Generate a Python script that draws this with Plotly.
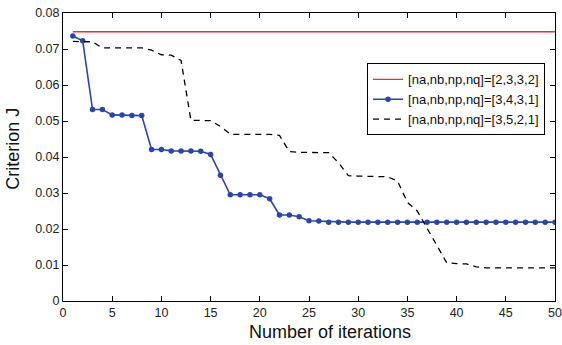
import plotly.graph_objects as go

iterations = list(range(1, 51))

red_J = [0.0748] * 50

blue_J = [0.0736, 0.0723, 0.0532, 0.0532, 0.0517, 0.0517, 0.0515, 0.0515, 0.0421, 0.0421,
          0.0417, 0.0417, 0.0417, 0.0416, 0.0407, 0.0349, 0.0295, 0.0295, 0.0295, 0.0295,
          0.0284, 0.0239, 0.0239, 0.0234, 0.0223, 0.0222] + [0.0219] * 24

black_J = [0.0721, 0.0721, 0.0720, 0.0703, 0.0703, 0.0703, 0.0703, 0.0703, 0.0697, 0.0684,
           0.0683, 0.0668, 0.0502, 0.0502, 0.0501, 0.0485, 0.0463, 0.0463, 0.0463, 0.0463,
           0.0463, 0.0460, 0.0415, 0.0413, 0.0413, 0.0413, 0.0412, 0.0384, 0.0348, 0.0347,
           0.0347, 0.0347, 0.0345, 0.0333, 0.0274, 0.0250, 0.0203, 0.0155, 0.0106, 0.0104,
           0.0103, 0.0095, 0.0092, 0.0092, 0.0092, 0.0092, 0.0092, 0.0092, 0.0092, 0.0092]

names = ["[na,nb,np,nq]=[2,3,3,2]", "[na,nb,np,nq]=[3,4,3,1]", "[na,nb,np,nq]=[3,5,2,1]"]

x_ticks = list(range(0, 51, 5))
y_ticks = [0, 0.01, 0.02, 0.03, 0.04, 0.05, 0.06, 0.07, 0.08]
y_tick_labels = ["0", "0.01", "0.02", "0.03", "0.04", "0.05", "0.06", "0.07", "0.08"]
x_title = "Number of iterations"
y_title = "Criterion J"

FONT = "Liberation Sans, Arial, sans-serif"

fig = go.Figure()
fig.add_trace(go.Scatter(x=iterations, y=red_J, mode="lines", name=names[0],
                         line=dict(color="#e8352c", width=1.4)))
fig.add_trace(go.Scatter(x=iterations, y=blue_J, mode="lines+markers", name=names[1],
                         line=dict(color="#2b46a8", width=1.6),
                         marker=dict(color="#2b46a8", size=5.5, symbol="circle")))
fig.add_trace(go.Scatter(x=iterations, y=black_J, mode="lines", name=names[2],
                         line=dict(color="black", width=1.3, dash="6px,5px")))

axis_common = dict(showline=True, linecolor="black", linewidth=1, mirror="ticks",
                   ticks="inside", ticklen=5, tickcolor="black", showgrid=False, zeroline=False,
                   automargin=False,
                   tickfont=dict(family=FONT, size=12.5, color="#222"))

fig.update_xaxes(range=[0, 50], tickvals=x_ticks, **axis_common)
fig.update_yaxes(range=[0, 0.08], tickvals=y_ticks, ticktext=y_tick_labels, **axis_common)

fig.add_annotation(text=x_title, xref="paper", yref="paper", x=0.543, y=-0.106,
                   xanchor="center", yanchor="middle", showarrow=False,
                   font=dict(family=FONT, size=18, color="#111"))
fig.add_annotation(text=y_title, xref="paper", yref="paper", x=-0.1016, y=0.529,
                   xanchor="center", yanchor="middle", showarrow=False, textangle=-90,
                   font=dict(family=FONT, size=18, color="#111"))

fig.update_layout(
    width=562, height=345,
    margin=dict(l=63, r=7, t=13, b=44, autoexpand=False),
    plot_bgcolor="white", paper_bgcolor="white",
    showlegend=True,
    legend=dict(x=0.618, y=0.825, xanchor="left", yanchor="top",
                bgcolor="white", bordercolor="black", borderwidth=1,
                font=dict(family=FONT, size=13, color="#111"),
                tracegroupgap=0, itemwidth=30),
)

fig.write_html("out.html")
